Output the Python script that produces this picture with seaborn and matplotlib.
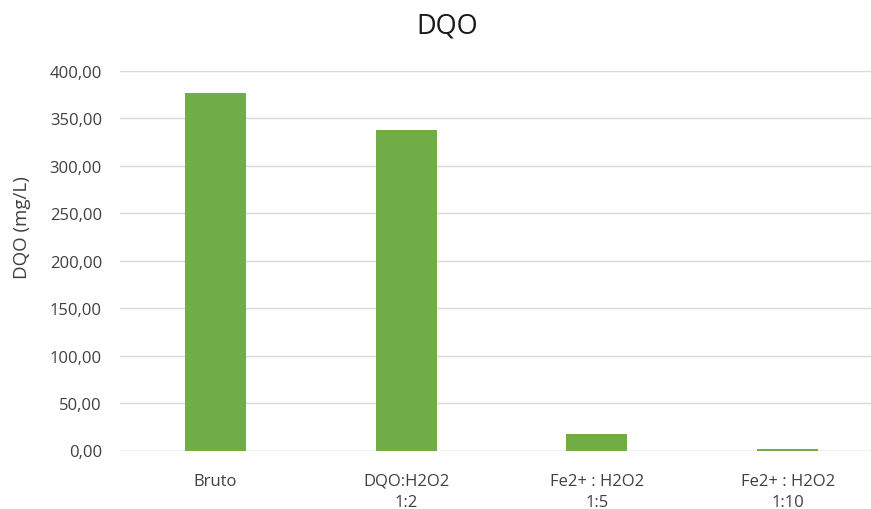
import matplotlib
matplotlib.use("Agg")
import matplotlib.pyplot as plt
from matplotlib.ticker import FuncFormatter, MultipleLocator
import seaborn as sns
import pandas as pd

categories = ["Bruto", "DQO:H2O2\n1:2", "Fe2+ : H2O2\n1:5", "Fe2+ : H2O2\n1:10"]
dqo_values = [377.0, 338.0, 17.0, 1.6]

sns.set_theme(style="white")
plt.rcParams["font.family"] = ["Open Sans", "DejaVu Sans"]

df = pd.DataFrame({"amostra": categories, "dqo": dqo_values})

fig = plt.figure(figsize=(8.71, 5.10), dpi=100)
ax = fig.add_axes([120 / 871, 58.5 / 510, 763 / 871, 379.5 / 510])

sns.barplot(data=df, x="amostra", y="dqo", color="#70AD47", saturation=1,
            width=0.32, linewidth=0, ax=ax)

ax.set_ylim(0, 400)
ax.yaxis.set_major_locator(MultipleLocator(50))
ax.yaxis.set_major_formatter(FuncFormatter(lambda v, _: f"{v:.2f}".replace(".", ",")))
ax.grid(axis="y", color="#D9D9D9", linewidth=1)
ax.set_axisbelow(True)
for side in ["top", "right", "left", "bottom"]:
    ax.spines[side].set_visible(False)
ax.axhline(0, color="#D9D9D9", linewidth=1, zorder=0)

ax.tick_params(axis="y", length=0, pad=13, labelsize=12, labelcolor="#404040")
ax.tick_params(axis="x", length=0, pad=16, labelsize=12, labelcolor="#404040")
for lbl in ax.get_xticklabels():
    lbl.set_linespacing(1.4)

ax.set_xlabel("")
ax.set_ylabel("DQO (mg/L)", fontsize=13.5, color="#404040")
ax.yaxis.set_label_coords(-0.117, 0.59)

fig.text(447 / 871, 1 - 27 / 510, "DQO", ha="center", va="center",
         fontsize=19.5, color="#1a1a1a")

fig.savefig("out.png", dpi=100, facecolor="white")
